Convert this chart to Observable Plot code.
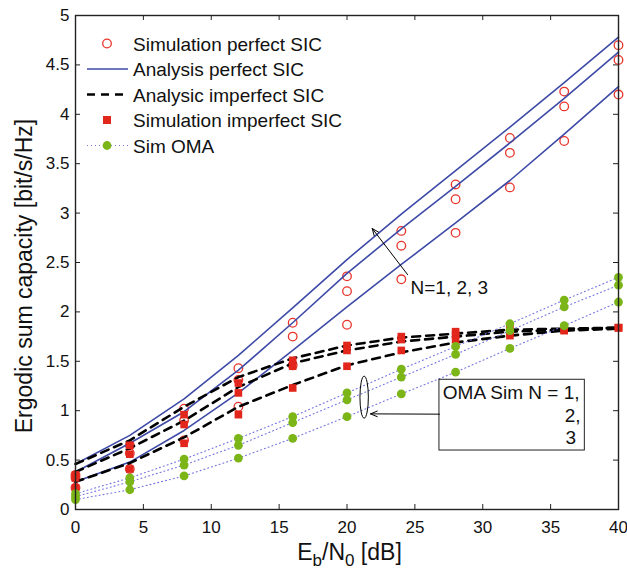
<!DOCTYPE html>
<html>
<head>
<meta charset="utf-8">
<script src="https://cdn.jsdelivr.net/npm/d3@7"></script>
<script src="https://cdn.jsdelivr.net/npm/@observablehq/plot@0.6"></script>
<style>
  html, body { margin: 0; padding: 0; background: #fff; }
  #chart { position: relative; width: 627px; height: 573px; }
</style>
</head>
<body>
<div id="chart"></div>
<script>
// ---------- data ----------
const snr = [0, 4, 8, 12, 16, 20, 24, 28, 32, 36, 40];

const anaPerfA = [0.46, 0.75, 1.12, 1.56, 2.04, 2.53, 2.99, 3.43, 3.87, 4.32, 4.78];
const anaPerfB = [0.38, 0.67, 0.99, 1.41, 1.89, 2.39, 2.84, 3.27, 3.71, 4.16, 4.63];
const anaPerfC = [0.28, 0.48, 0.80, 1.18, 1.61, 2.05, 2.48, 2.90, 3.33, 3.80, 4.28];

const simPerfA = [0.35, 0.65, 1.02, 1.43, 1.89, 2.36, 2.82, 3.29, 3.76, 4.23, 4.70];
const simPerfB = [0.32, 0.57, 0.90, 1.31, 1.75, 2.21, 2.67, 3.14, 3.61, 4.08, 4.55];
const simPerfC = [0.22, 0.41, 0.70, 1.04, 1.46, 1.87, 2.33, 2.80, 3.26, 3.73, 4.20];

const anaImpA = [0.46, 0.70, 1.04, 1.34, 1.53, 1.66, 1.74, 1.78, 1.82, 1.83, 1.84];
const anaImpB = [0.38, 0.62, 0.90, 1.24, 1.48, 1.61, 1.70, 1.75, 1.80, 1.82, 1.84];
const anaImpC = [0.28, 0.47, 0.73, 1.04, 1.26, 1.46, 1.59, 1.69, 1.76, 1.81, 1.83];

const simImpA = [0.35, 0.65, 0.96, 1.28, 1.51, 1.66, 1.75, 1.80, 1.83, 1.82, 1.84];
const simImpB = [0.32, 0.56, 0.86, 1.18, 1.45, 1.61, 1.72, 1.77, 1.80, 1.82, 1.84];
const simImpC = [0.22, 0.41, 0.67, 0.96, 1.23, 1.45, 1.61, 1.72, 1.76, 1.81, 1.84];

const omaA = [0.16, 0.32, 0.51, 0.72, 0.94, 1.18, 1.42, 1.65, 1.88, 2.12, 2.35];
const omaB = [0.13, 0.28, 0.45, 0.65, 0.88, 1.11, 1.34, 1.57, 1.81, 2.05, 2.27];
const omaC = [0.10, 0.20, 0.34, 0.52, 0.72, 0.94, 1.17, 1.39, 1.63, 1.86, 2.10];

const xTicks = [0, 5, 10, 15, 20, 25, 30, 35, 40];
const yTicks = [0, 0.5, 1, 1.5, 2, 2.5, 3, 3.5, 4, 4.5, 5];

const legendLabels = ["Simulation perfect SIC", "Analysis perfect SIC", "Analysic imperfect SIC", "Simulation imperfect SIC", "Sim OMA"];
const annN = "N=1, 2, 3";
const annOma = ["OMA Sim N = 1,", "2,", "3"];
const xLabelParts = ["E", "b", "/N", "0", " [dB]"];
const yLabel = "Ergodic sum capacity [bit/s/Hz]";

// annotation anchor points (data coordinates)
const arrowN = [{x1: 24.46, y1: 2.378, x2: 21.86, y2: 2.844}];
const arrowOma = [{x1: 26.81, y1: 0.965, x2: 21.73, y2: 0.968}];
const textN = [{x: 24.68, y: 2.183, t: annN}];
const omaBox = [{x1: 26.81, x2: 37.52, y1: 0.597, y2: 1.313}];
const omaTextStart = [{x: 27.06, y: 1.120, t: annOma[0]}];
const omaTextEnd = [
  {x: 37.20, y: 0.884, t: annOma[1]},
  {x: 36.88, y: 0.658, t: annOma[2]}
];
const ellipseCenter = {x: 21.30, y: 1.132};

// ---------- tidy tables ----------
function tidy(arrs) {
  const out = [];
  arrs.forEach((arr, k) => arr.forEach((v, i) => out.push({x: snr[i], y: v, s: k})));
  return out;
}
const anaPerf = tidy([anaPerfA, anaPerfB, anaPerfC]);
const simPerf = tidy([simPerfA, simPerfB, simPerfC]);
const anaImp = tidy([anaImpA, anaImpB, anaImpC]);
const simImp = tidy([simImpA, simImpB, simImpC]);
const oma = tidy([omaA, omaB, omaC]);

// ---------- colors ----------
const cRed = "#e8352b", cSq = "#e2261c", cBlue = "#3d4aa6", cGreen = "#7cb518", cDot = "#7474e0";

const W = 627, H = 573;
const mL = 75, mR = 9, mT = 15, mB = 64;
const innerW = W - mL - mR, innerH = H - mT - mB;
const tl = 5;
const font = "'Liberation Sans', Arial, Helvetica, sans-serif";

const plot = Plot.plot({
  width: W, height: H,
  marginLeft: mL, marginRight: mR, marginTop: mT, marginBottom: mB,
  x: {domain: [0, 40]},
  y: {domain: [0, 5]},
  style: {fontFamily: font, fontSize: "17px", color: "#111", background: "#fff"},
  marks: [
    // inward ticks
    Plot.tickX(xTicks, {x: d => d, insetTop: innerH - tl, stroke: "#222"}),
    Plot.tickX(xTicks, {x: d => d, insetBottom: innerH - tl, stroke: "#222"}),
    Plot.tickY(yTicks, {y: d => d, insetRight: innerW - tl, stroke: "#222"}),
    Plot.tickY(yTicks, {y: d => d, insetLeft: innerW - tl, stroke: "#222"}),
    Plot.axisX(xTicks, {tickSize: 0, tickPadding: 11, label: null, fontSize: 17}),
    Plot.axisY(yTicks, {tickSize: 0, tickPadding: 6, label: null, fontSize: 17, tickFormat: d => String(d)}),
    // series
    Plot.dot(simPerf, {x: "x", y: "y", r: 4.3, stroke: cRed, strokeWidth: 1.3, fill: "none"}),
    Plot.line(anaPerf, {x: "x", y: "y", z: "s", stroke: cBlue, strokeWidth: 1.6}),
    Plot.line(anaImp, {x: "x", y: "y", z: "s", stroke: "#000", strokeWidth: 2.6, strokeDasharray: "8,6"}),
    Plot.dot(simImp, {x: "x", y: "y", symbol: "square", r: 4.3, fill: cSq, stroke: "none"}),
    Plot.line(oma, {x: "x", y: "y", z: "s", stroke: cDot, strokeWidth: 1.1, strokeDasharray: "1,3"}),
    Plot.dot(oma, {x: "x", y: "y", r: 4.4, fill: cGreen, stroke: "none"}),
    // annotations
    Plot.arrow(arrowN, {x1: "x1", y1: "y1", x2: "x2", y2: "y2", stroke: "#000", strokeWidth: 1, headLength: 11, headAngle: 45}),
    Plot.text(textN, {x: "x", y: "y", text: "t", textAnchor: "start", lineAnchor: "bottom", fontSize: 19, fill: "#111"}),
    Plot.rect(omaBox, {x1: "x1", x2: "x2", y1: "y1", y2: "y2", fill: "#fff", stroke: "#222", strokeWidth: 1}),
    Plot.arrow(arrowOma, {x1: "x1", y1: "y1", x2: "x2", y2: "y2", stroke: "#000", strokeWidth: 1, headLength: 11, headAngle: 45}),
    Plot.text(omaTextStart, {x: "x", y: "y", text: "t", textAnchor: "start", lineAnchor: "bottom", fontSize: 19, fill: "#111"}),
    Plot.text(omaTextEnd, {x: "x", y: "y", text: "t", textAnchor: "end", lineAnchor: "bottom", fontSize: 19, fill: "#111"}),
    Plot.frame({stroke: "#222", strokeWidth: 1.4})
  ]
});

document.getElementById("chart").appendChild(plot);

const svg = d3.select(plot);
const sx = plot.scale("x"), sy = plot.scale("y");

// ellipse around OMA curves
svg.append("ellipse")
  .attr("cx", sx.apply(ellipseCenter.x)).attr("cy", sy.apply(ellipseCenter.y))
  .attr("rx", 4.2).attr("ry", 21)
  .attr("fill", "none").attr("stroke", "#000").attr("stroke-width", 1);

// axis labels
const xl = svg.append("text")
  .attr("x", (mL + W - mR) / 2 + 3).attr("y", 560)
  .attr("text-anchor", "middle")
  .attr("font-family", font).attr("font-size", 23).attr("fill", "#111");
xl.append("tspan").text(xLabelParts[0]);
xl.append("tspan").attr("font-size", 17).attr("dy", 6).text(xLabelParts[1]);
xl.append("tspan").attr("dy", -6).text(xLabelParts[2]);
xl.append("tspan").attr("font-size", 17).attr("dy", 6).text(xLabelParts[3]);
xl.append("tspan").attr("dy", -6).text(xLabelParts[4]);

svg.append("text")
  .attr("transform", "translate(32,276) rotate(-90)")
  .attr("text-anchor", "middle")
  .attr("font-family", font).attr("font-size", 23).attr("fill", "#111")
  .text(yLabel);

// legend (no box)
const lg = svg.append("g").attr("font-family", font).attr("font-size", 19).attr("fill", "#111")
  .attr("text-anchor", "start");
const rowY = i => 43.5 + i * 25.5;
const symX = 107, lineX1 = 87, lineX2 = 128, textX = 133;
legendLabels.forEach((lab, i) => {
  lg.append("text").attr("x", textX).attr("y", rowY(i) + 7).attr("text-anchor", "start").text(lab);
});
lg.append("circle").attr("cx", symX).attr("cy", rowY(0)).attr("r", 4.3)
  .attr("fill", "none").attr("stroke", cRed).attr("stroke-width", 1.3);
lg.append("line").attr("x1", lineX1).attr("x2", lineX2).attr("y1", rowY(1)).attr("y2", rowY(1))
  .attr("stroke", cBlue).attr("stroke-width", 1.6);
lg.append("line").attr("x1", lineX1).attr("x2", lineX2).attr("y1", rowY(2)).attr("y2", rowY(2))
  .attr("stroke", "#000").attr("stroke-width", 2.6).attr("stroke-dasharray", "8,6");
lg.append("rect").attr("x", symX - 4).attr("y", rowY(3) - 4).attr("width", 8).attr("height", 8)
  .attr("fill", cSq);
lg.append("line").attr("x1", lineX1).attr("x2", lineX2).attr("y1", rowY(4)).attr("y2", rowY(4))
  .attr("stroke", cDot).attr("stroke-width", 1.1).attr("stroke-dasharray", "1,3");
lg.append("circle").attr("cx", symX).attr("cy", rowY(4)).attr("r", 4.4).attr("fill", cGreen);
</script>
</body>
</html>
